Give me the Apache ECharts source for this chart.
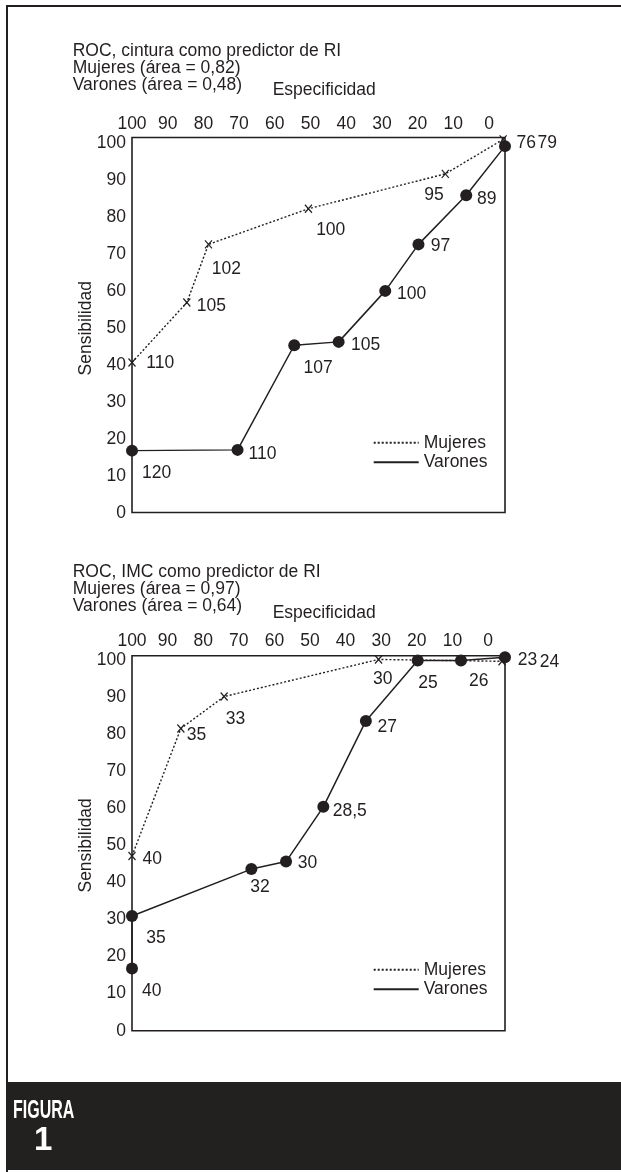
<!DOCTYPE html>
<html>
<head>
<meta charset="utf-8">
<script src="https://cdn.jsdelivr.net/npm/echarts@6.0.0/dist/echarts.min.js"></script>
<style>
  html, body { margin: 0; padding: 0; background: #fff; }
  #chart { width: 621px; height: 1172px; }
</style>
</head>
<body>
<div id="chart"></div>
<script>
// ROC, cintura: especificidad (x), sensibilidad (y), punto de corte (etiqueta)
var cinturaMujEsp = [100, 85.3, 79.5, 52.7, 16, 0.5];
var cinturaMujSen = [40, 56, 71.5, 81, 90.3, 99.5];
var cinturaMujCorte = ['110', '105', '102', '100', '95', '76'];
var cinturaVarEsp = [100, 71.7, 56.5, 44.6, 32.1, 23.2, 10.4, 0];
var cinturaVarSen = [16.5, 16.7, 44.6, 45.5, 59.1, 71.5, 84.6, 97.7];
var cinturaVarCorte = ['120', '110', '107', '105', '100', '97', '89', '79'];

// ROC, IMC
var imcMujEsp = [100, 86.9, 75.3, 33.9, 0.8];
var imcMujSen = [46.6, 80.6, 89.1, 99, 98.5];
var imcMujCorte = ['40', '35', '33', '30', '23'];
var imcVarEsp = [100, 100, 68, 58.7, 48.7, 37.3, 23.4, 11.8, 0];
var imcVarSen = [16.6, 30.6, 43.1, 45.1, 59.7, 82.6, 98.7, 98.7, 99.6];
var imcVarCorte = ['40', '35', '32', '30', '28,5', '27', '25', '26', '24'];

var areaCintura = [0.82, 0.48];
var areaImc = [0.97, 0.64];

// desplazamiento de cada etiqueta respecto a su punto (px)
var cinturaMujOff = [[14.3, 1], [10, 3.4], [3.4, 24.7], [7.7, 21], [-21, 21.7], [13.4, 3.7]];
var cinturaVarOff = [[10, 23], [11, 4], [9.3, 22.5], [12.4, 2.8], [11.7, 3.1], [12.4, 1.8], [10.7, 4.2], [32.6, -2.7]];
var imcMujOff = [[10.6, 3.2], [6, 7.2], [1.7, 22.5], [-5.6, 20.1], [15.7, -1]];
var imcVarOff = [[10, 23], [14.3, 22.7], [-1, 17.7], [11.6, 1.1], [9.4, 4.6], [11.6, 6.2], [0.6, 23], [8, 20.1], [34.7, 5.2]];

var FONT = '"Liberation Sans", Arial, sans-serif';
var FS = 17.5;
var INK = '#231f20';

function fmtArea(v) { return v.toFixed(2).replace('.', ','); }

function puntos(esp, sen, corte, off) {
    return esp.map(function (e, i) {
        return {
            value: [e, sen[i]],
            label: {
                show: true, formatter: corte[i], position: 'inside',
                align: 'left', verticalAlign: 'middle', offset: off[i]
            }
        };
    });
}

var labelStyle = { fontSize: FS, color: INK, fontFamily: FONT };

function mujeres(data, idx) {
    return {
        name: 'Mujeres', type: 'line', xAxisIndex: idx, yAxisIndex: idx,
        symbol: 'path://M0,0L8,9M8,0L0,9', symbolSize: [7, 8], showAllSymbol: true,
        itemStyle: { color: 'rgba(0,0,0,0)', borderColor: INK, borderWidth: 1.3 },
        lineStyle: { color: INK, width: 1.4, type: [2, 2] },
        label: labelStyle,
        data: data
    };
}
function varones(data, idx) {
    return {
        name: 'Varones', type: 'line', xAxisIndex: idx, yAxisIndex: idx,
        symbol: 'circle', symbolSize: 12, showAllSymbol: true,
        itemStyle: { color: INK },
        lineStyle: { color: INK, width: 1.5, type: 'solid' },
        label: labelStyle,
        data: data
    };
}

function dataX(g) { return { gridIndex: g, type: 'value', min: 0, max: 100, inverse: true, show: false }; }
function dataY(g) { return { gridIndex: g, type: 'value', min: 0, max: 100, show: false }; }
function tickX(g, m) {
    return {
        gridIndex: g, type: 'value', min: 0, max: 100, interval: 10, inverse: true, position: 'top',
        axisLine: { show: false }, axisTick: { show: false }, splitLine: { show: false },
        axisLabel: { margin: m, fontSize: FS, color: INK, fontFamily: FONT }
    };
}
function tickY(g) {
    return {
        gridIndex: g, type: 'value', min: 0, max: 100, interval: 10, position: 'left',
        axisLine: { show: false }, axisTick: { show: false }, splitLine: { show: false },
        axisLabel: { margin: 6, fontSize: FS, color: INK, fontFamily: FONT },
        name: 'Sensibilidad', nameLocation: 'middle', nameRotate: 90, nameGap: 37,
        nameMoveOverlap: false,
        nameTextStyle: { fontSize: FS, color: INK, fontFamily: FONT }
    };
}

var titleStyle = { fontSize: FS, lineHeight: 17, fontWeight: 'normal', color: INK, fontFamily: FONT };
var nameStyle = { fontSize: FS, lineHeight: FS, fontWeight: 'normal', color: INK, fontFamily: FONT };
var legendBase = {
    orient: 'vertical', left: 372.7, itemWidth: 45, itemHeight: 10, itemGap: 0, padding: 0,
    selectedMode: false, data: ['Mujeres', 'Varones'], itemStyle: { opacity: 0 },
    textStyle: { fontSize: FS, lineHeight: 19.5, color: INK, fontFamily: FONT }
};

var chart = echarts.init(document.getElementById('chart'), null, { renderer: 'canvas' });

var option = {
    backgroundColor: '#fff',
    animation: false,
    textStyle: { fontFamily: FONT },
    title: [
        { text: 'ROC, cintura como predictor de RI\nMujeres (área = ' + fmtArea(areaCintura[0]) + ')\nVarones (área = ' + fmtArea(areaCintura[1]) + ')',
          left: 72.7, top: 43.1, padding: 0, textStyle: titleStyle },
        { text: 'Especificidad', left: 272.7, top: 81.9, padding: 0, textStyle: nameStyle },
        { text: 'ROC, IMC como predictor de RI\nMujeres (área = ' + fmtArea(areaImc[0]) + ')\nVarones (área = ' + fmtArea(areaImc[1]) + ')',
          left: 72.7, top: 563.4, padding: 0, textStyle: titleStyle },
        { text: 'Especificidad', left: 272.7, top: 604.7, padding: 0, textStyle: nameStyle }
    ],
    legend: [
        Object.assign({}, legendBase, { top: 433 }),
        Object.assign({}, legendBase, { top: 960 })
    ],
    grid: [
        { left: 132, top: 137.5, width: 373, height: 375, show: true, borderColor: INK, borderWidth: 1.6, backgroundColor: 'transparent', outerBoundsMode: 'none' },
        { left: 132, top: 143.5, width: 357, height: 369.5, show: false, outerBoundsMode: 'none' },
        { left: 132, top: 655.7, width: 373, height: 375, show: true, borderColor: INK, borderWidth: 1.6, backgroundColor: 'transparent', outerBoundsMode: 'none' },
        { left: 132, top: 660, width: 356, height: 370.7, show: false, outerBoundsMode: 'none' }
    ],
    xAxis: [dataX(0), tickX(1, 10.5), dataX(2), tickX(3, 9.5)],
    yAxis: [dataY(0), tickY(1), dataY(2), tickY(3)],
    series: [
        mujeres(puntos(cinturaMujEsp, cinturaMujSen, cinturaMujCorte, cinturaMujOff), 0),
        varones(puntos(cinturaVarEsp, cinturaVarSen, cinturaVarCorte, cinturaVarOff), 0),
        mujeres(puntos(imcMujEsp, imcMujSen, imcMujCorte, imcMujOff), 2),
        varones(puntos(imcVarEsp, imcVarSen, imcVarCorte, imcVarOff), 2)
    ],
    graphic: [
        { type: 'rect', silent: true, z: -1, shape: { x: 7, y: 6, width: 660, height: 1250 },
          style: { fill: 'none', stroke: INK, lineWidth: 2 } },
        { type: 'rect', silent: true, shape: { x: 6, y: 1082, width: 620, height: 88 },
          style: { fill: '#222120' } },
        { type: 'text', silent: true, x: 13, y: 1099, scaleX: 0.64,
          style: { text: 'FIGURA', fill: '#fff', font: 'bold 25px ' + FONT } },
        { type: 'text', silent: true, x: 34, y: 1124,
          style: { text: '1', fill: '#fff', font: 'bold 33px ' + FONT } }
    ]
};

chart.setOption(option);
</script>
</body>
</html>
